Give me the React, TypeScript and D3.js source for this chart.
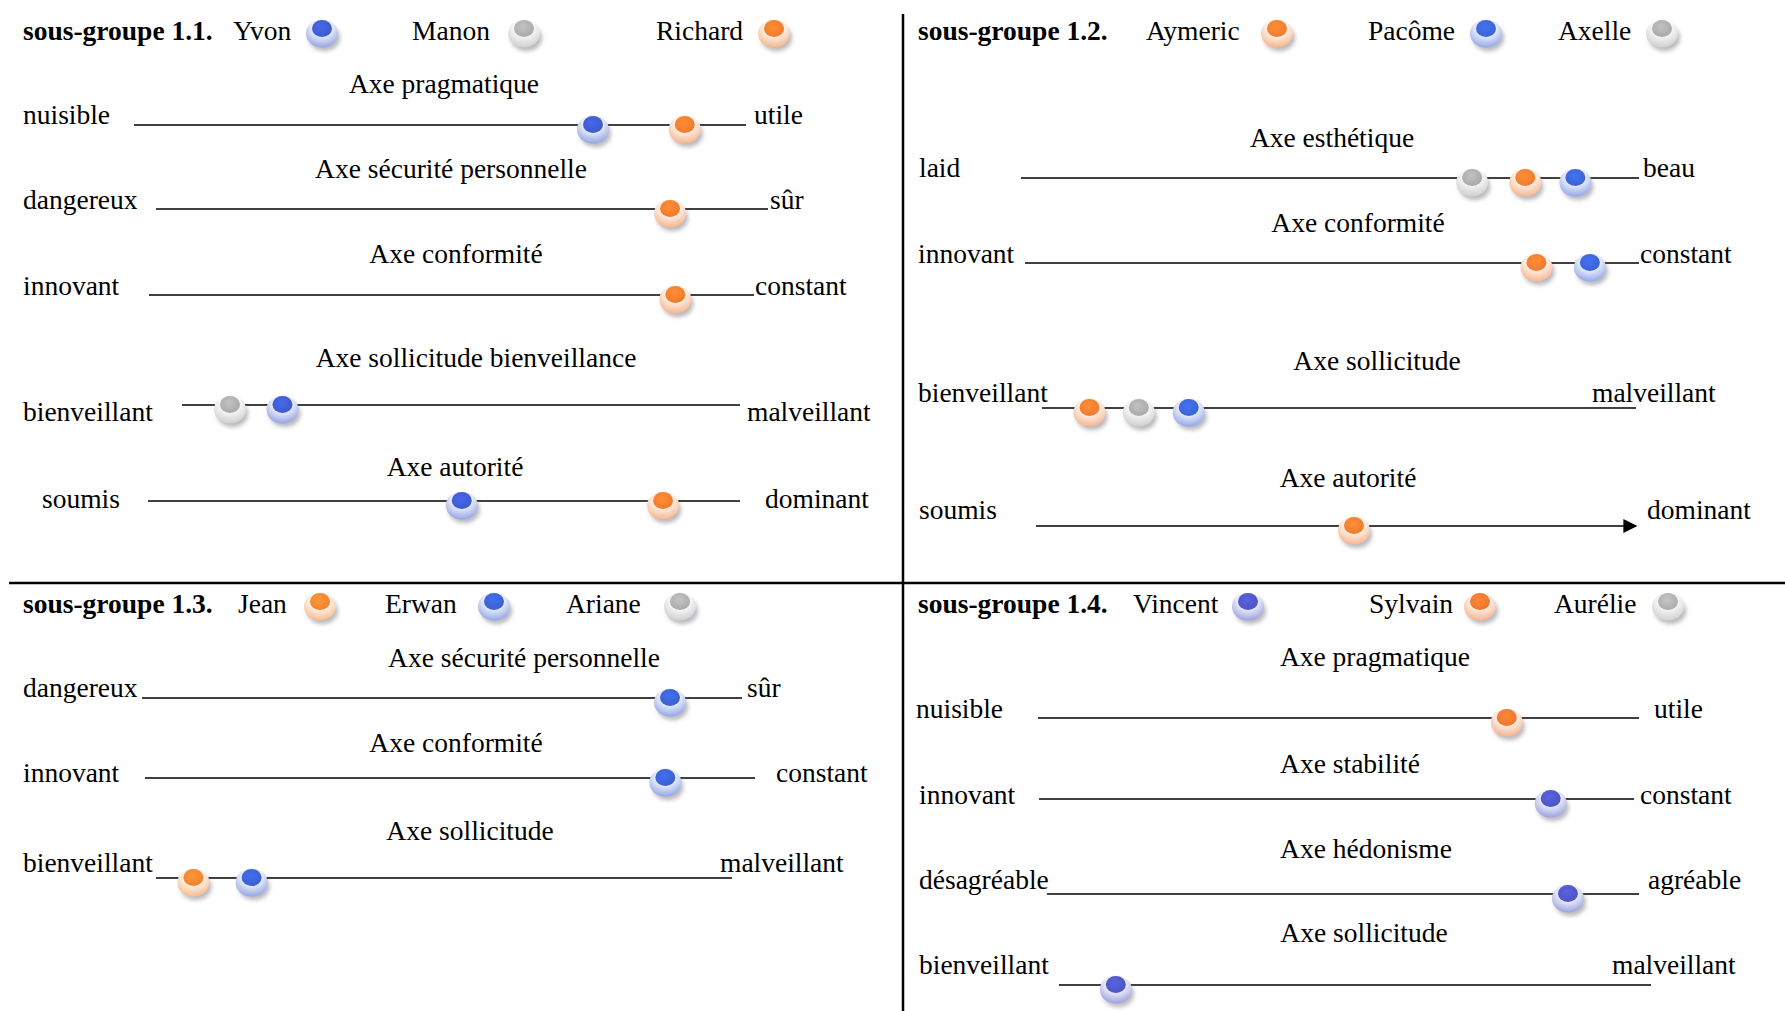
import React, { useEffect } from 'react';
import * as d3 from 'd3';

const width = 1785;
const height = 1011;

// ---- data ----
const groupTitles = ['sous-groupe 1.1.', 'sous-groupe 1.2.', 'sous-groupe 1.3.', 'sous-groupe 1.4.'];

const groupMembers = [
  ['Yvon', 'Manon', 'Richard'],
  ['Aymeric', 'Pacôme', 'Axelle'],
  ['Jean', 'Erwan', 'Ariane'],
  ['Vincent', 'Sylvain', 'Aurélie'],
];

const axisNames = [
  ['Axe pragmatique', 'Axe sécurité personnelle', 'Axe conformité', 'Axe sollicitude bienveillance', 'Axe autorité'],
  ['Axe esthétique', 'Axe conformité', 'Axe sollicitude', 'Axe autorité'],
  ['Axe sécurité personnelle', 'Axe conformité', 'Axe sollicitude'],
  ['Axe pragmatique', 'Axe stabilité', 'Axe hédonisme', 'Axe sollicitude'],
];

const leftPoles = [
  ['nuisible', 'dangereux', 'innovant', 'bienveillant', 'soumis'],
  ['laid', 'innovant', 'bienveillant', 'soumis'],
  ['dangereux', 'innovant', 'bienveillant'],
  ['nuisible', 'innovant', 'désagréable', 'bienveillant'],
];

const rightPoles = [
  ['utile', 'sûr', 'constant', 'malveillant', 'dominant'],
  ['beau', 'constant', 'malveillant', 'dominant'],
  ['sûr', 'constant', 'malveillant'],
  ['utile', 'constant', 'agréable', 'malveillant'],
];

// position of each person along the axis, 0 = left pole, 100 = right pole
const scores: [string, number][][][] = [
  [
    [['Yvon', 75], ['Richard', 90]],
    [['Richard', 84]],
    [['Richard', 87]],
    [['Manon', 8.6], ['Yvon', 18]],
    [['Yvon', 53], ['Richard', 87]],
  ],
  [
    [['Axelle', 73], ['Aymeric', 81.6], ['Pacôme', 89.7]],
    [['Aymeric', 83.3], ['Pacôme', 92]],
    [['Aymeric', 8], ['Axelle', 16.3], ['Pacôme', 24.7]],
    [['Aymeric', 53]],
  ],
  [
    [['Erwan', 88]],
    [['Erwan', 85.3]],
    [['Jean', 6.5], ['Erwan', 16.6]],
  ],
  [
    [['Sylvain', 78]],
    [['Vincent', 86]],
    [['Vincent', 88]],
    [['Vincent', 9.6]],
  ],
];

const personColors: Record<string, string> = {
  Yvon: '#3d5acb', Manon: '#a9a9a9', Richard: '#ef7a2c',
  Aymeric: '#ee7b2f', Pacôme: '#3b63d3', Axelle: '#a8a8a8',
  Jean: '#ee832f', Erwan: '#3a5fcf', Ariane: '#aaaaaa',
  Vincent: '#4d55c4', Sylvain: '#ef7530', Aurélie: '#acacac',
};

// ---- layout (full-size pixel positions) ----
const header = [
  { y: 30, titleX: 23, nameX: [233, 412, 656], dotX: [322, 524, 774] },
  { y: 30, titleX: 918, nameX: [1146, 1368, 1558], dotX: [1277, 1486, 1662] },
  { y: 603, titleX: 23, nameX: [238, 385, 566], dotX: [320, 494, 680] },
  { y: 603, titleX: 918, nameX: [1133, 1369, 1554], dotX: [1248, 1480, 1668] },
];

type Row = { tx: number; ty: number; lx: number; ly: number; x1: number; x2: number; y: number; rx: number; arrow?: boolean };
const rows: Row[][] = [
  [
    { tx: 444, ty: 83, lx: 23, ly: 114, x1: 134, x2: 746, y: 125, rx: 754 },
    { tx: 451, ty: 168, lx: 23, ly: 199, x1: 156, x2: 768, y: 209, rx: 770 },
    { tx: 456, ty: 253, lx: 23, ly: 285, x1: 149, x2: 754, y: 295, rx: 755 },
    { tx: 476, ty: 357, lx: 23, ly: 411, x1: 182, x2: 740, y: 405, rx: 747 },
    { tx: 455, ty: 466, lx: 42, ly: 498, x1: 148, x2: 740, y: 501, rx: 765 },
  ],
  [
    { tx: 1332, ty: 137, lx: 919, ly: 167, x1: 1021, x2: 1639, y: 178, rx: 1643 },
    { tx: 1358, ty: 222, lx: 918, ly: 253, x1: 1025, x2: 1639, y: 263, rx: 1640 },
    { tx: 1377, ty: 360, lx: 918, ly: 392, x1: 1042, x2: 1636, y: 408, rx: 1592 },
    { tx: 1348, ty: 477, lx: 919, ly: 509, x1: 1036, x2: 1636, y: 526, rx: 1647, arrow: true },
  ],
  [
    { tx: 524, ty: 657, lx: 23, ly: 687, x1: 142, x2: 742, y: 698, rx: 747 },
    { tx: 456, ty: 742, lx: 23, ly: 772, x1: 145, x2: 755, y: 778, rx: 776 },
    { tx: 470, ty: 830, lx: 23, ly: 862, x1: 156, x2: 732, y: 878, rx: 720 },
  ],
  [
    { tx: 1375, ty: 656, lx: 916, ly: 708, x1: 1038, x2: 1639, y: 718, rx: 1654 },
    { tx: 1350, ty: 763, lx: 919, ly: 794, x1: 1039, x2: 1634, y: 799, rx: 1640 },
    { tx: 1366, ty: 848, lx: 919, ly: 879, x1: 1047, x2: 1639, y: 894, rx: 1648 },
    { tx: 1364, ty: 932, lx: 919, ly: 964, x1: 1059, x2: 1651, y: 985, rx: 1612 },
  ],
];

const fontFamily = '"Liberation Serif", "Times New Roman", serif';
const fontSize = 27.5;

const colorId = (c: string) => c.replace('#', '');

// glossy "bead" symbol: soft shadow, pale disc, coloured core
function Marker({ x, y, color }: { x: number; y: number; color: string }) {
  const id = colorId(color);
  return (
    <g transform={`translate(${x},${y})`}>
      <ellipse cx={2.5} cy={9} rx={15.5} ry={13} fill="#445" opacity={0.38} filter="url(#soft)" />
      <ellipse cx={0} cy={4.5} rx={16} ry={14} fill={`url(#disc-${id})`} />
      <ellipse cx={0} cy={-0.5} rx={10} ry={8.5} fill={`url(#core-${id})`} />
    </g>
  );
}

export default function App() {
  useEffect(() => {
    document.body.style.margin = '0';
  }, []);

  const colors = Array.from(new Set(Object.values(personColors)));

  return (
    <svg width={width} height={height} style={{ display: 'block', background: '#fff' }} fontFamily={fontFamily} fontSize={fontSize}>
      <defs>
        <filter id="soft" x="-50%" y="-50%" width="200%" height="200%">
          <feGaussianBlur stdDeviation={2.2} />
        </filter>
        <marker id="arrowhead" viewBox="0 0 10 10" refX={9} refY={5} markerWidth={15} markerHeight={14} markerUnits="userSpaceOnUse" orient="auto">
          <path d="M0,0 L10,5 L0,10 z" fill="#000" />
        </marker>
        {colors.map(c => {
          const id = colorId(c);
          const rim = d3.interpolateRgb('#ffffff', c)(0.55);
          const mid = d3.interpolateRgb('#ffffff', c)(0.12);
          const hi = d3.color(c)!.brighter(0.4).formatHex();
          return (
            <React.Fragment key={id}>
              <radialGradient id={`disc-${id}`} cx="50%" cy="28%" r="72%">
                <stop offset="0%" stopColor="#ffffff" />
                <stop offset="45%" stopColor={mid} />
                <stop offset="100%" stopColor={rim} />
              </radialGradient>
              <radialGradient id={`core-${id}`} cx="45%" cy="40%" r="60%">
                <stop offset="0%" stopColor={hi} />
                <stop offset="100%" stopColor={c} />
              </radialGradient>
            </React.Fragment>
          );
        })}
      </defs>

      {/* panel dividers */}
      <line x1={903} x2={903} y1={14} y2={height} stroke="#000" strokeWidth={2.5} />
      <line x1={9} x2={width} y1={583} y2={583} stroke="#000" strokeWidth={2.5} />

      {groupTitles.map((title, g) => {
        const h = header[g];
        return (
          <g key={title}>
            <text x={h.titleX} y={h.y} dominantBaseline="central" fontWeight="bold">{title}</text>
            {groupMembers[g].map((name, i) => (
              <g key={name}>
                <text x={h.nameX[i]} y={h.y} dominantBaseline="central">{name}</text>
                <Marker x={h.dotX[i]} y={h.y - 1} color={personColors[name]} />
              </g>
            ))}

            {rows[g].map((r, a) => {
              const x = d3.scaleLinear().domain([0, 100]).range([r.x1, r.x2]);
              return (
                <g key={a}>
                  <text x={r.tx} y={r.ty} textAnchor="middle" dominantBaseline="central">{axisNames[g][a]}</text>
                  <text x={r.lx} y={r.ly} dominantBaseline="central">{leftPoles[g][a]}</text>
                  <text x={r.rx} y={r.ly} dominantBaseline="central">{rightPoles[g][a]}</text>
                  <line
                    x1={x(0)} x2={x(100)} y1={r.y} y2={r.y}
                    stroke="#000" strokeWidth={1.7}
                    markerEnd={r.arrow ? 'url(#arrowhead)' : undefined}
                  />
                  {scores[g][a].map(([person, v]) => (
                    <Marker key={person} x={x(v)} y={r.y} color={personColors[person]} />
                  ))}
                </g>
              );
            })}
          </g>
        );
      })}
    </svg>
  );
}
